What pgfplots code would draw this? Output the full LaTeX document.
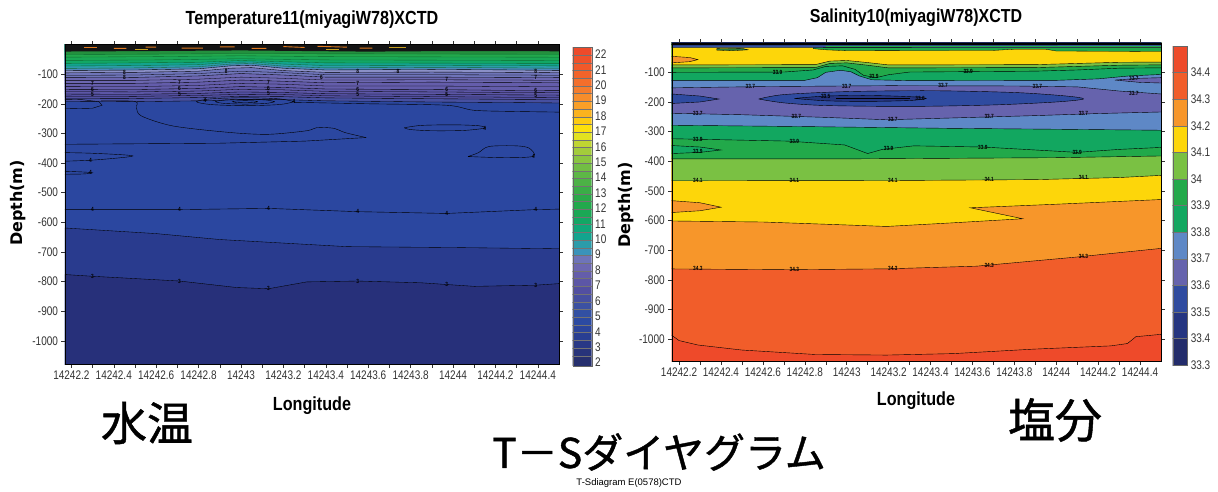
\documentclass[border=0pt]{standalone}
\usepackage{pgfplots}
\pgfplotsset{compat=1.18}
\usepackage{fontspec}
\setmainfont{Liberation Sans}
\newfontfamily\narrow[FakeStretch=0.8]{Liberation Sans}
\newfontfamily\titlef[FakeStretch=0.85]{Liberation Sans}
\newfontfamily\jp[FakeBold=1]{Noto Sans CJK JP}
\newfontfamily\djv{DejaVu Sans}
% temperature colours
\definecolor{tc0}{HTML}{262F6E}\definecolor{tc1}{HTML}{27337A}\definecolor{tc2}{HTML}{283886}
\definecolor{tc3}{HTML}{293E92}\definecolor{tc4}{HTML}{2B449C}\definecolor{tc5}{HTML}{2C4AA2}
\definecolor{tc6}{HTML}{3250A3}\definecolor{tc7}{HTML}{3C51A2}\definecolor{tc8}{HTML}{464FA0}
\definecolor{tc9}{HTML}{524FA1}\definecolor{tc10}{HTML}{5C56A6}\definecolor{tc11}{HTML}{645DAB}
\definecolor{tc12}{HTML}{6C67B1}\definecolor{tc13}{HTML}{6E74B9}\definecolor{tc14}{HTML}{3A93BA}
\definecolor{tc15}{HTML}{2B9CAA}\definecolor{tc16}{HTML}{12A48E}\definecolor{tc17}{HTML}{10A77A}
\definecolor{tc18}{HTML}{12A765}\definecolor{tc19}{HTML}{1AA855}\definecolor{tc20}{HTML}{22A94C}
\definecolor{tc21}{HTML}{2AAA49}\definecolor{tc22}{HTML}{3AAD47}\definecolor{tc23}{HTML}{4CB246}
\definecolor{tc24}{HTML}{5DB746}\definecolor{tc25}{HTML}{72BD44}\definecolor{tc26}{HTML}{8AC540}
\definecolor{tc27}{HTML}{A3CC3B}\definecolor{tc28}{HTML}{C0D532}\definecolor{tc29}{HTML}{E2E220}
\definecolor{tc30}{HTML}{FCE00C}\definecolor{tc31}{HTML}{FDCB10}\definecolor{tc32}{HTML}{FBB31E}
\definecolor{tc33}{HTML}{F99F27}\definecolor{tc34}{HTML}{F78D2B}\definecolor{tc35}{HTML}{F57C2C}
\definecolor{tc36}{HTML}{F46E2B}\definecolor{tc37}{HTML}{F2632A}\definecolor{tc38}{HTML}{F1592A}
\definecolor{tc39}{HTML}{EF512A}\definecolor{tc40}{HTML}{EE4A2A}
\definecolor{tbody}{HTML}{2B47A0}\definecolor{tdeepA}{HTML}{293B8E}\definecolor{tdeepB}{HTML}{27307A}
\definecolor{tdash}{HTML}{E07A20}\definecolor{tdash2}{HTML}{C8A020}\definecolor{tdgreen}{HTML}{0E6A30}
% salinity colours
\definecolor{s33}{HTML}{232C6B}\definecolor{s34}{HTML}{253581}\definecolor{s35}{HTML}{2F4BA0}
\definecolor{s36}{HTML}{6663AD}\definecolor{s37}{HTML}{5E88C6}\definecolor{s38}{HTML}{12A760}
\definecolor{s39}{HTML}{22A94A}\definecolor{s40}{HTML}{7AC143}\definecolor{s41}{HTML}{FDD60A}
\definecolor{s42}{HTML}{F7962A}\definecolor{s43}{HTML}{F15D2A}\definecolor{s44}{HTML}{EE4A2A}
\definecolor{snavy}{HTML}{1E2A5C}\definecolor{sblue}{HTML}{3452A2}\definecolor{sdkg}{HTML}{2E7D3A}

\newcommand{\band}[3]{\addplot[fill=#3, draw=black!55, line width=0.25pt] coordinates {(-0.2,#1)(1.2,#1)(1.2,#2)(-0.2,#2)} --cycle;}

\pgfplotsset{
 contourax/.style={scale only axis, anchor=north west, axis on top,
  axis line style={black, line width=0.4pt},
  tick align=outside, major tick length=3.5pt, minor tick length=3.5pt,
  tick style={black!80, line width=0.4pt},
  xtick={0.2,0.4,0.6,0.8,1.0,1.2,1.4,1.6,1.8,2.0,2.2,2.4},
  xticklabels={14242.2,14242.4,14242.6,14242.8,14243,14243.2,14243.4,14243.6,14243.8,14244,14244.2,14244.4},
  minor xtick={0.3,0.5,0.7,0.9,1.1,1.3,1.5,1.7,1.9,2.1,2.3},
  ytick={-1000,-900,-800,-700,-600,-500,-400,-300,-200,-100},
  yticklabels={-1000,-900,-800,-700,-600,-500,-400,-300,-200,-100},
  ticklabel style={font=\narrow\fontsize{12.5}{14}\selectfont, text=black!80},
 },
 cbar/.style={scale only axis, anchor=north west, axis on top, xmin=0, xmax=1, xtick=\empty,
  ytick pos=right, yticklabel pos=right, major tick length=0pt,
  axis line style={black!60, line width=0.4pt},
  ticklabel style={font=\narrow\fontsize{12.5}{14}\selectfont, text=black!80},
 },
}
\tikzset{lbl/.style={font=\narrow\bfseries\fontsize{6}{6}\selectfont, inner sep=0pt}}

\begin{document}
\begin{tikzpicture}[x=1pt,y=1pt]
\useasboundingbox (0,0) rectangle (1218,-491);

%================ TEMPERATURE =================
\begin{axis}[contourax, at={(65pt,-44.5pt)}, width=494pt, height=319.5pt,
  xmin=0.17, xmax=2.5, ymin=-1078, ymax=0]
\addplot[fill=tbody, draw=none] coordinates {(0.1,-1100)(2.6,-1100)(2.6,10)(0.1,10)} --cycle;
\addplot[fill=tdeepA, draw=black, line width=0.35pt] coordinates {(0.1,-616)(0.6,-638)(0.9,-658)(1.2,-670)(1.5,-682)(2.0,-685)(2.6,-690)(2.6,-1100)(0.1,-1100)} --cycle;
\addplot[fill=tdeepB, draw=black, line width=0.35pt] coordinates {(0.1,-773)(0.3,-782)(0.71,-798)(0.98,-820)(1.13,-824)(1.31,-801)(1.55,-798)(1.85,-804)(2.1,-816)(2.39,-812)(2.6,-802)(2.6,-1100)(0.1,-1100)} --cycle;
% upper layers
\addplot[fill=tc8, draw=black, line width=0.35pt] coordinates {(0.1,-191)(0.5,-193)(0.8,-190)(1.0,-186)(1.2,-186)(1.4,-190)(1.9,-194)(2.3,-196)(2.6,-198)(2.6,10)(0.1,10)} --cycle;
\addplot[fill=tc9, draw=black, line width=0.35pt] coordinates {(0.1,-181)(0.5,-182)(0.8,-179)(1.0,-175)(1.2,-176)(1.4,-180)(1.9,-183)(2.3,-185)(2.6,-186)(2.6,10)(0.1,10)} --cycle;
\addplot[fill=tc10, draw=black, line width=0.35pt] coordinates {(0.1,-167)(0.5,-168)(0.8,-165)(1.0,-160)(1.2,-162)(1.4,-166)(1.9,-168)(2.3,-170)(2.6,-171)(2.6,10)(0.1,10)} --cycle;
\addplot[fill=tc11, draw=black, line width=0.35pt] coordinates {(0.1,-151)(0.5,-152)(0.8,-148)(1.0,-142)(1.2,-145)(1.4,-150)(1.9,-152)(2.3,-155)(2.6,-156)(2.6,10)(0.1,10)} --cycle;
\addplot[fill=tc12, draw=black, line width=0.35pt] coordinates {(0.1,-131)(0.5,-131)(0.8,-127)(1.0,-120)(1.2,-124)(1.4,-129)(1.9,-127)(2.3,-128)(2.6,-130)(2.6,10)(0.1,10)} --cycle;
\addplot[fill=tc13, draw=black, line width=0.35pt] coordinates {(0.1,-112)(0.5,-111)(0.8,-106)(1.0,-98)(1.2,-103)(1.4,-110)(1.9,-110)(2.3,-111)(2.6,-112)(2.6,10)(0.1,10)} --cycle;
\addplot[fill=tc13!80!white, draw=black, line width=0.35pt] coordinates {(0.1,-96)(0.5,-94)(0.8,-90)(0.95,-80)(1.05,-78)(1.2,-88)(1.4,-94)(1.9,-93)(2.3,-94)(2.6,-96)(2.6,10)(0.1,10)} --cycle;
\addplot[fill=tc14!70!tc13, draw=black, line width=0.35pt] coordinates {(0.1,-88)(0.5,-86)(0.8,-82)(0.95,-72)(1.05,-70)(1.2,-80)(1.4,-86)(1.9,-84)(2.3,-86)(2.6,-88)(2.6,10)(0.1,10)} --cycle;
\addplot[fill=tc15, draw=tdgreen, line width=0.35pt] coordinates {(0.1,-81)(0.5,-79)(0.8,-75)(0.95,-66)(1.05,-64)(1.2,-73)(1.4,-79)(1.9,-77)(2.3,-79)(2.6,-81)(2.6,10)(0.1,10)} --cycle;
\addplot[fill=tc16, draw=tdgreen, line width=0.35pt] coordinates {(0.1,-73)(0.5,-71)(0.8,-68)(0.95,-60)(1.05,-59)(1.2,-66)(1.4,-71)(1.9,-70)(2.3,-71)(2.6,-73)(2.6,10)(0.1,10)} --cycle;
\addplot[fill=tc18, draw=tdgreen, line width=0.35pt] coordinates {(0.1,-64)(0.5,-62)(0.8,-60)(1.0,-54)(1.2,-58)(1.4,-62)(2.6,-64)(2.6,10)(0.1,10)} --cycle;
\addplot[fill=tc19, draw=tdgreen, line width=0.35pt] coordinates {(0.1,-54)(0.6,-52)(1.0,-48)(1.4,-52)(2.6,-54)(2.6,10)(0.1,10)} --cycle;
\addplot[fill=tc20, draw=tdgreen, line width=0.35pt] coordinates {(0.1,-43)(0.6,-41)(1.0,-38)(1.4,-41)(2.6,-43)(2.6,10)(0.1,10)} --cycle;
\addplot[fill=tc21!85!black, draw=tdgreen, line width=0.35pt] coordinates {(0.1,-34)(1.0,-31)(2.6,-33)(2.6,10)(0.1,10)} --cycle;
\addplot[fill=black!92, draw=none] coordinates {(0.1,-24)(0.6,-22)(1.0,-20)(1.6,-24)(2.0,-22)(2.6,-23)(2.6,10)(0.1,10)} --cycle;
% extra contour lines
\addplot[black, line width=0.3pt] coordinates {(0.1,-104)(0.5,-103)(0.8,-98)(1.0,-90)(1.2,-95)(1.4,-102)(1.9,-102)(2.3,-103)(2.6,-104)};
\addplot[black, line width=0.3pt] coordinates {(0.1,-121)(0.5,-121)(0.8,-117)(1.0,-110)(1.2,-114)(1.4,-120)(1.9,-119)(2.3,-120)(2.6,-121)};
\addplot[black, line width=0.3pt] coordinates {(0.1,-141)(0.5,-142)(0.8,-138)(1.0,-131)(1.2,-134)(1.4,-140)(1.9,-140)(2.3,-142)(2.6,-143)};
\addplot[black, line width=0.3pt] coordinates {(0.1,-159)(0.5,-160)(0.8,-157)(1.0,-151)(1.2,-153)(1.4,-158)(1.9,-160)(2.3,-162)(2.6,-163)};
\addplot[black, line width=0.3pt] coordinates {(0.1,-174)(0.5,-175)(0.8,-172)(1.0,-168)(1.2,-169)(1.4,-173)(1.9,-176)(2.3,-178)(2.6,-179)};
% surface dashes
\addplot[tdash, line width=0.9pt, unbounded coords=jump] coordinates {(0.26,-10)(0.32,-10)(0.33,nan)(0.40,-13)(0.46,-13)(0.47,nan)(0.55,-9)(0.6,-9)(0.61,nan)(0.72,-12)(0.82,-12)(0.83,nan)(0.9,-8)(0.97,-8)(0.98,nan)(1.05,-13)(1.12,-13)(1.13,nan)(1.2,-7)(1.3,-10)(1.31,nan)(1.36,-6)(1.5,-9)(1.51,nan)(1.56,-12)(1.62,-12)};
\addplot[tdash2, line width=0.8pt, unbounded coords=jump] coordinates {(0.5,-16)(0.56,-16)(0.57,nan)(1.4,-15)(1.46,-15)(1.47,nan)(1.7,-11)(1.78,-11)};
% 4-degree contours
\addplot[black, line width=0.4pt] coordinates {(0.1,-184)(0.25,-186)(0.33,-193)(0.345,-205)(0.3,-215)(0.1,-218)};
\addplot[black, line width=0.4pt, smooth] coordinates {(0.34,-190)(0.5,-192)(0.507,-213)(0.53,-241)(0.68,-275)(0.95,-297)(1.13,-303)(1.31,-291)(1.36,-280)(1.44,-283)(1.49,-297)(1.59,-314)};
\addplot[black, line width=0.4pt] coordinates {(1.59,-314)(1.3,-326)(0.9,-333)(0.1,-337)};
\addplot[black, line width=0.4pt, smooth] coordinates {(1.25,-193)(1.183,-183.5)(1.02,-179.5)(0.857,-183.5)(0.79,-193)(0.857,-202.5)(1.02,-206.5)(1.183,-202.5)(1.25,-193)};
\addplot[black, line width=0.4pt, smooth] coordinates {(1.16,-193)(1.119,-187.3)(1.02,-185)(0.921,-187.3)(0.88,-193)(0.921,-198.7)(1.02,-201)(1.119,-198.7)(1.16,-193)};
\addplot[black, line width=0.4pt, smooth] coordinates {(1.08,-193)(1.062,-190.5)(1.02,-189.5)(0.978,-190.5)(0.96,-193)(0.978,-195.5)(1.02,-196.5)(1.062,-195.5)(1.08,-193)};
\addplot[black, line width=0.4pt, smooth] coordinates {(1.25,-195)(1.6,-200)(1.97,-205)(2.1,-222)(2.3,-226)(2.6,-229)};
\addplot[black, line width=0.4pt, smooth] coordinates {(1.77,-281)(1.85,-273)(2.0,-271)(2.12,-274)(2.15,-282)(2.05,-290)(1.9,-291)(1.8,-287)(1.77,-281)};
\addplot[black, line width=0.4pt, smooth] coordinates {(2.07,-378)(2.12,-365)(2.17,-344)(2.3,-342)(2.36,-350)(2.38,-377)(2.25,-382)(2.07,-378)};
\addplot[black, line width=0.4pt, smooth] coordinates {(0.1,-364)(0.3,-367)(0.49,-376)(0.3,-390)(0.1,-395)};
\addplot[black, line width=0.4pt, smooth] coordinates {(0.1,-426)(0.25,-430)(0.3,-433)(0.25,-437)(0.1,-438)};
\addplot[black, line width=0.4pt] coordinates {(0.1,-557)(0.71,-557)(1.13,-553)(1.55,-564)(1.97,-570)(2.39,-557)(2.6,-554)};
% labels
\node[lbl] at (axis cs:0.3,-130) {7};\node[lbl] at (axis cs:0.3,-150) {6};\node[lbl] at (axis cs:0.3,-168) {5};
\node[lbl] at (axis cs:0.45,-93) {8};\node[lbl] at (axis cs:0.45,-110) {8};
\node[lbl] at (axis cs:0.71,-128) {7};\node[lbl] at (axis cs:0.71,-148) {6};\node[lbl] at (axis cs:0.71,-167) {5};
\node[lbl] at (axis cs:0.93,-92) {8};
\node[lbl] at (axis cs:1.13,-128) {7};\node[lbl] at (axis cs:1.13,-148) {6};\node[lbl] at (axis cs:1.13,-166) {5};
\node[lbl] at (axis cs:1.38,-112) {6};
\node[lbl] at (axis cs:1.55,-92) {8};\node[lbl] at (axis cs:1.55,-130) {7};\node[lbl] at (axis cs:1.55,-150) {6};\node[lbl] at (axis cs:1.55,-168) {5};
\node[lbl] at (axis cs:1.74,-92) {8};
\node[lbl] at (axis cs:1.97,-118) {7};\node[lbl] at (axis cs:1.97,-150) {6};\node[lbl] at (axis cs:1.97,-168) {5};
\node[lbl] at (axis cs:2.39,-92) {8};\node[lbl] at (axis cs:2.39,-110) {7};\node[lbl] at (axis cs:2.39,-155) {6};\node[lbl] at (axis cs:2.39,-172) {5};
\node[lbl] at (axis cs:0.83,-190) {4};\node[lbl] at (axis cs:1.25,-193) {4};
\node[lbl] at (axis cs:2.15,-282) {4};\node[lbl] at (axis cs:2.38,-376) {4};
\node[lbl] at (axis cs:0.29,-392) {4};\node[lbl] at (axis cs:0.29,-433) {4};
\node[lbl] at (axis cs:0.3,-557) {4};\node[lbl] at (axis cs:0.71,-557) {4};\node[lbl] at (axis cs:1.13,-553) {4};
\node[lbl] at (axis cs:1.55,-564) {4};\node[lbl] at (axis cs:1.97,-570) {4};\node[lbl] at (axis cs:2.39,-557) {4};
\node[lbl] at (axis cs:0.3,-782) {3};\node[lbl] at (axis cs:0.71,-798) {3};\node[lbl] at (axis cs:1.13,-824) {3};
\node[lbl] at (axis cs:1.55,-798) {3};\node[lbl] at (axis cs:1.97,-810) {3};\node[lbl] at (axis cs:2.39,-812) {3};
\end{axis}

% temperature colour bar
\begin{axis}[cbar, at={(572.7pt,-47.3pt)}, width=19pt, height=318.4pt, ymin=1.8, ymax=22.45,
  ytick={2,3,4,5,6,7,8,9,10,11,12,13,14,15,16,17,18,19,20,21,22},
  yticklabels={2,3,4,5,6,7,8,9,10,11,12,13,14,15,16,17,18,19,20,21,22}]
\band{1.7}{2.45}{tc0}\band{2.45}{2.95}{tc1}\band{2.95}{3.45}{tc2}\band{3.45}{3.95}{tc3}
\band{3.95}{4.45}{tc4}\band{4.45}{4.95}{tc5}\band{4.95}{5.45}{tc6}\band{5.45}{5.95}{tc7}
\band{5.95}{6.45}{tc8}\band{6.45}{6.95}{tc9}\band{6.95}{7.45}{tc10}\band{7.45}{7.95}{tc11}
\band{7.95}{8.45}{tc12}\band{8.45}{8.95}{tc13}\band{8.95}{9.45}{tc14}\band{9.45}{9.95}{tc15}
\band{9.95}{10.45}{tc16}\band{10.45}{10.95}{tc17}\band{10.95}{11.45}{tc18}\band{11.45}{11.95}{tc19}
\band{11.95}{12.45}{tc20}\band{12.45}{12.95}{tc21}\band{12.95}{13.45}{tc22}\band{13.45}{13.95}{tc23}
\band{13.95}{14.45}{tc24}\band{14.45}{14.95}{tc25}\band{14.95}{15.45}{tc26}\band{15.45}{15.95}{tc27}
\band{15.95}{16.45}{tc28}\band{16.45}{16.95}{tc29}\band{16.95}{17.45}{tc30}\band{17.45}{17.95}{tc31}
\band{17.95}{18.45}{tc32}\band{18.45}{18.95}{tc33}\band{18.95}{19.45}{tc34}\band{19.45}{19.95}{tc35}
\band{19.95}{20.45}{tc36}\band{20.45}{20.95}{tc37}\band{20.95}{21.45}{tc38}\band{21.45}{21.95}{tc39}
\band{21.95}{22.6}{tc40}
\end{axis}

%================ SALINITY =================
\begin{axis}[contourax, at={(671.7pt,-42.7pt)}, width=489.3pt, height=318.3pt,
  xmin=0.165, xmax=2.5, ymin=-1074, ymax=0]
\addplot[fill=s44, draw=none] coordinates {(0.1,-1100)(2.6,-1100)(2.6,10)(0.1,10)} --cycle;
\addplot[fill=s43, draw=black, line width=0.4pt] coordinates {(0.1,-985)(0.165,-987)(0.2,-1005)(0.29,-1020)(0.5,-1037)(0.85,-1052)(1.19,-1054)(1.51,-1049)(1.89,-1034)(2.26,-1023)(2.34,-1015)(2.38,-992)(2.5,-984)(2.6,-983)(2.6,10)(0.1,10)} --cycle;
\addplot[fill=s42, draw=black, line width=0.4pt] coordinates {(0.1,-763)(0.72,-766)(1.19,-763)(1.62,-754)(2.1,-723)(2.5,-694)(2.6,-690)(2.6,10)(0.1,10)} --cycle;
\addplot[fill=s41, draw=black, line width=0.4pt] coordinates {(0.1,-601)(0.6,-605)(1.0,-615)(1.19,-620)(1.5,-608)(1.84,-594)(1.59,-557)(2.0,-545)(2.6,-526)(2.6,10)(0.1,10)} --cycle;
\addplot[fill=s42, draw=black, line width=0.4pt] coordinates {(0.1,-533)(0.165,-533)(0.3,-540)(0.4,-555)(0.3,-567)(0.165,-573)(0.1,-573)} --cycle;
\addplot[fill=s40, draw=black, line width=0.4pt] coordinates {(0.1,-466)(1.2,-465)(1.9,-462)(2.3,-455)(2.6,-444)(2.6,10)(0.1,10)} --cycle;
\addplot[fill=s39, draw=black, line width=0.4pt] coordinates {(0.1,-392)(1.0,-392)(2.0,-388)(2.6,-381)(2.6,10)(0.1,10)} --cycle;
\addplot[fill=s38, draw=black, line width=0.4pt] coordinates {(0.1,-323)(0.72,-332)(0.99,-345)(1.04,-358)(1.1,-374)(1.17,-360)(1.32,-348)(1.65,-352)(2.1,-370)(2.3,-360)(2.6,-350)(2.6,10)(0.1,10)} --cycle;
\addplot[fill=s38, draw=black, line width=0.4pt] coordinates {(0.1,-346)(0.165,-347)(0.3,-352)(0.4,-362)(0.3,-370)(0.165,-374)(0.1,-374)} --cycle;
\addplot[fill=s37, draw=black, line width=0.4pt] coordinates {(0.1,-278)(0.8,-283)(1.5,-289)(2.0,-292)(2.6,-296)(2.6,10)(0.1,10)} --cycle;
\addplot[fill=s36, draw=black, line width=0.4pt] coordinates {(0.1,-237)(0.5,-243)(0.9,-252)(1.19,-260)(1.5,-254)(1.9,-246)(2.2,-239)(2.6,-232)(2.6,10)(0.1,10)} --cycle;
\addplot[fill=s37, draw=black, line width=0.4pt] coordinates {(0.1,-153)(0.6,-148)(1.2,-145)(1.8,-146)(2.1,-149)(2.3,-163)(2.6,-178)(2.6,10)(0.1,10)} --cycle;
\addplot[fill=s38, draw=black, line width=0.4pt] coordinates {(0.1,-127)(0.8,-127)(0.86,-118)(0.9,-100)(0.97,-93)(1.02,-98)(1.06,-112)(1.12,-125)(1.3,-128)(2.0,-127)(2.2,-122)(2.35,-112)(2.6,-104)(2.6,10)(0.1,10)} --cycle;
\addplot[fill=s39, draw=black, line width=0.4pt] coordinates {(0.1,-100)(0.7,-99)(0.84,-92)(0.9,-80)(0.98,-78)(1.04,-90)(1.08,-110)(1.14,-118)(1.2,-108)(1.3,-99)(1.9,-96)(2.1,-92)(2.3,-86)(2.6,-84)(2.6,10)(0.1,10)} --cycle;
\addplot[fill=s40, draw=black, line width=0.4pt] coordinates {(0.1,-85)(0.85,-84)(0.92,-70)(1.0,-68)(1.1,-76)(1.2,-85)(1.9,-84)(2.1,-80)(2.3,-76)(2.6,-74)(2.6,10)(0.1,10)} --cycle;
\addplot[fill=s41, draw=black, line width=0.4pt] coordinates {(0.1,-75)(0.85,-74)(0.92,-62)(1.0,-60)(1.1,-67)(1.2,-75)(1.9,-74)(2.1,-70)(2.3,-66)(2.6,-65)(2.6,10)(0.1,10)} --cycle;
\addplot[fill=s42, draw=black, line width=0.4pt] coordinates {(0.1,-46)(0.165,-46)(0.25,-50)(0.29,-57)(0.25,-64)(0.165,-68)(0.1,-68)} --cycle;
\addplot[fill=s36, draw=black, line width=0.4pt] coordinates {(2.28,-126)(2.4,-120)(2.6,-116)(2.6,-138)(2.4,-134)} --cycle;
% low-salinity lenses
\addplot[fill=s35, draw=black, line width=0.4pt, smooth] coordinates {(0.58,-190)(0.7,-175)(1.0,-165)(1.4,-162)(1.8,-168)(2.05,-180)(2.13,-190)(2.0,-200)(1.7,-210)(1.3,-215)(0.9,-212)(0.7,-203)(0.58,-190)};
\addplot[fill=s35, draw=black, line width=0.4pt] coordinates {(0.1,-173)(0.165,-173)(0.3,-180)(0.39,-190)(0.3,-200)(0.165,-205)(0.1,-205)} --cycle;
\addplot[fill=s34, draw=black, line width=0.4pt, smooth] coordinates {(0.75,-188)(0.9,-180)(1.1,-178)(1.3,-182)(1.38,-188)(1.3,-195)(1.1,-198)(0.9,-196)(0.75,-188)};
\addplot[black, line width=0.6pt] coordinates {(0.95,-189)(1.3,-189)};
% surface layers
\addplot[fill=s39, draw=black, line width=0.3pt] coordinates {(0.84,-16)(2.6,-16)(2.6,-30)(2.0,-28)(1.95,-22)(1.8,-22)(1.7,-26)(1.0,-27)(0.9,-24)(0.84,-20)} --cycle;
\addplot[fill=sdkg, draw=black, line width=0.3pt] coordinates {(0.38,-20)(0.5,-19)(0.53,-24)(0.45,-27)(0.38,-25)} --cycle;
\addplot[fill=sblue, draw=black, line width=0.3pt] coordinates {(0.1,-17)(2.6,-16)(2.6,10)(0.1,10)} --cycle;
\addplot[s39, line width=1pt] coordinates {(0.9,-12.5)(2.5,-12)};
\addplot[fill=snavy, draw=black, line width=0.3pt] coordinates {(0.1,-8)(2.6,-7)(2.6,10)(0.1,10)} --cycle;
\addplot[black, line width=0.5pt] coordinates {(0.1,-4)(2.6,-4)};
% labels
\node[lbl] at (axis cs:0.67,-99) {33.9};\node[lbl] at (axis cs:1.13,-114) {33.9};\node[lbl] at (axis cs:1.58,-96) {33.9};
\node[lbl] at (axis cs:0.54,-149) {33.7};\node[lbl] at (axis cs:1.0,-146) {33.7};\node[lbl] at (axis cs:1.46,-145) {33.7};
\node[lbl] at (axis cs:1.91,-147) {33.7};\node[lbl] at (axis cs:2.37,-120) {33.7};\node[lbl] at (axis cs:2.37,-170) {33.7};
\node[lbl] at (axis cs:0.9,-180) {33.5};\node[lbl] at (axis cs:1.35,-188) {33.6};
\node[lbl] at (axis cs:0.29,-240) {33.7};\node[lbl] at (axis cs:0.76,-249) {33.7};\node[lbl] at (axis cs:1.22,-259) {33.7};
\node[lbl] at (axis cs:1.68,-250) {33.7};\node[lbl] at (axis cs:2.13,-240) {33.7};
\node[lbl] at (axis cs:0.29,-326) {33.9};\node[lbl] at (axis cs:0.75,-333) {33.9};\node[lbl] at (axis cs:1.2,-356) {33.9};
\node[lbl] at (axis cs:1.65,-352) {33.9};\node[lbl] at (axis cs:2.1,-369) {33.9};\node[lbl] at (axis cs:0.29,-368) {33.9};
\node[lbl] at (axis cs:0.29,-466) {34.1};\node[lbl] at (axis cs:0.75,-465) {34.1};\node[lbl] at (axis cs:1.22,-465) {34.1};
\node[lbl] at (axis cs:1.68,-462) {34.1};\node[lbl] at (axis cs:2.13,-455) {34.1};
\node[lbl] at (axis cs:0.29,-763) {34.3};\node[lbl] at (axis cs:0.75,-766) {34.3};\node[lbl] at (axis cs:1.22,-763) {34.3};
\node[lbl] at (axis cs:1.68,-752) {34.3};\node[lbl] at (axis cs:2.13,-721) {34.3};
\end{axis}

% salinity colour bar
\begin{axis}[cbar, at={(1172.7pt,-46pt)}, width=14.6pt, height=319pt, ymin=33.3, ymax=34.5,
  ytick={33.3,33.4,33.5,33.6,33.7,33.8,33.9,34,34.1,34.2,34.3,34.4},
  yticklabels={33.3,33.4,33.5,33.6,33.7,33.8,33.9,34,34.1,34.2,34.3,34.4}]
\band{33.2}{33.4}{s33}\band{33.4}{33.5}{s34}\band{33.5}{33.6}{s35}\band{33.6}{33.7}{s36}
\band{33.7}{33.8}{s37}\band{33.8}{33.9}{s38}\band{33.9}{34.0}{s39}\band{34.0}{34.1}{s40}
\band{34.1}{34.2}{s41}\band{34.2}{34.3}{s42}\band{34.3}{34.4}{s43}\band{34.4}{34.6}{s44}
\end{axis}

% texts
\node[font=\titlef\bfseries\fontsize{19}{21}\selectfont] at (312,-20) {Temperature11(miyagiW78)XCTD};
\node[font=\titlef\bfseries\fontsize{18.8}{21}\selectfont] at (916,-18) {Salinity10(miyagiW78)XCTD};
\node[rotate=90, font=\djv\bfseries\fontsize{16}{18}\selectfont] at (18,-203) {Depth(m)};
\node[rotate=90, font=\djv\bfseries\fontsize{16}{18}\selectfont] at (626,-205) {Depth(m)};
\node[font=\titlef\bfseries\fontsize{19}{21}\selectfont] at (312,-406) {Longitude};
\node[font=\titlef\bfseries\fontsize{19}{21}\selectfont] at (916,-401) {Longitude};
\node[font=\jp\fontsize{46}{50}\selectfont] at (147,-423) {水温};
\node[font=\jp\fontsize{47}{50}\selectfont] at (1055,-420) {塩分};
\node[font=\jp\fontsize{41}{45}\selectfont] at (659,-452) {T－Sダイヤグラム};
\node[font=\fontsize{9.5}{10}\selectfont] at (629,-483) {T-Sdiagram E(0578)CTD};
\end{tikzpicture}
\end{document}
